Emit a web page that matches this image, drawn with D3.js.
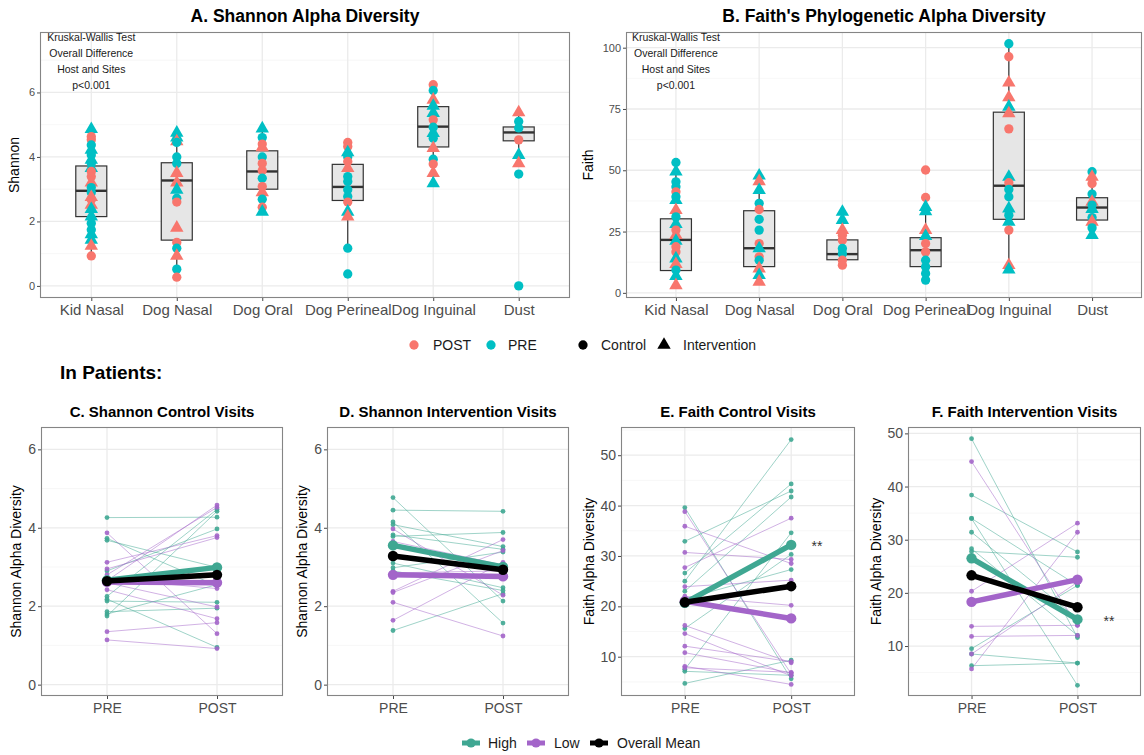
<!DOCTYPE html>
<html>
<head>
<meta charset="utf-8">
<script src="https://cdn.jsdelivr.net/npm/d3@7/dist/d3.min.js"></script>
<style>
  body { margin: 0; background: #ffffff; }
  svg { display: block; font-family: "Liberation Sans", Arial, Helvetica, sans-serif; }
</style>
</head>
<body>
<svg id="chart" width="1144" height="755"></svg>
<script>
// ---------------- data ----------------
const sites = ["Kid Nasal", "Dog Nasal", "Dog Oral", "Dog Perineal", "Dog Inguinal", "Dust"];
const visits = ["PRE", "POST"];
const visitLegend = ["POST", "PRE"];
const armLegend = ["Control", "Intervention"];
const groupLegend = ["High", "Low", "Overall Mean"];

// per-sample alpha diversity: [site index, value, visit, arm]  arm C = Control, I = Intervention
const shannonSamples = [
  [0,4.86,"PRE","I"],[0,4.63,"POST","C"],[0,4.53,"POST","C"],[0,4.37,"PRE","C"],[0,4.22,"PRE","I"],
  [0,4.06,"PRE","C"],[0,3.91,"PRE","I"],[0,3.80,"PRE","C"],[0,3.65,"PRE","I"],[0,3.55,"POST","C"],
  [0,3.39,"POST","C"],[0,3.20,"POST","I"],[0,3.05,"PRE","C"],[0,2.90,"PRE","C"],[0,2.75,"POST","I"],
  [0,2.67,"POST","C"],[0,2.51,"POST","I"],[0,2.38,"PRE","I"],[0,2.15,"PRE","I"],[0,1.94,"PRE","C"],
  [0,1.74,"PRE","C"],[0,1.60,"PRE","I"],[0,1.43,"PRE","I"],[0,1.24,"POST","I"],[0,0.93,"POST","C"],
  [1,4.75,"PRE","I"],[1,4.60,"PRE","I"],[1,4.48,"POST","I"],[1,4.45,"PRE","C"],[1,4.00,"PRE","C"],
  [1,3.80,"PRE","C"],[1,3.50,"POST","I"],[1,3.20,"POST","I"],[1,2.98,"PRE","I"],[1,2.72,"PRE","C"],
  [1,2.60,"POST","C"],[1,1.80,"POST","I"],[1,1.35,"POST","C"],[1,1.17,"PRE","C"],[1,0.93,"POST","I"],
  [1,0.52,"PRE","C"],[1,0.27,"POST","C"],
  [2,4.88,"PRE","I"],[2,4.60,"PRE","C"],[2,4.40,"POST","C"],[2,4.30,"POST","I"],[2,4.00,"PRE","C"],
  [2,3.80,"POST","C"],[2,3.58,"POST","C"],[2,3.34,"PRE","C"],[2,3.08,"POST","C"],[2,2.90,"POST","I"],
  [2,2.69,"PRE","C"],[2,2.44,"POST","C"],[2,2.30,"PRE","I"],
  [3,4.45,"POST","C"],[3,4.32,"POST","C"],[3,4.14,"PRE","I"],[3,4.00,"PRE","C"],[3,3.86,"POST","C"],
  [3,3.65,"POST","I"],[3,3.39,"PRE","C"],[3,3.24,"PRE","C"],[3,2.98,"PRE","C"],[3,2.77,"PRE","C"],
  [3,2.60,"POST","C"],[3,2.30,"PRE","I"],[3,2.15,"POST","I"],[3,1.17,"PRE","C"],[3,0.37,"PRE","C"],
  [4,6.24,"POST","C"],[4,6.06,"PRE","C"],[4,5.77,"POST","I"],[4,5.58,"PRE","I"],[4,5.36,"PRE","I"],
  [4,5.15,"POST","C"],[4,4.92,"PRE","C"],[4,4.74,"PRE","I"],[4,4.58,"PRE","C"],[4,4.27,"POST","I"],
  [4,3.93,"PRE","C"],[4,3.78,"POST","C"],[4,3.50,"POST","I"],[4,3.18,"PRE","I"],
  [5,5.38,"POST","I"],[5,5.10,"PRE","C"],[5,4.90,"PRE","C"],[5,4.53,"POST","C"],[5,4.06,"PRE","I"],
  [5,3.80,"POST","I"],[5,3.47,"PRE","C"],[5,0.00,"PRE","C"]
];
// box summaries per site: [lower whisker, Q1, median, Q3, upper whisker]
const shannonBoxStats = [
  [0.93,2.15,2.95,3.72,4.86],[0.27,1.42,3.27,3.82,4.75],[2.30,3.00,3.55,4.19,4.88],
  [1.17,2.65,3.07,3.77,4.45],[3.18,4.31,4.94,5.56,6.24],[4.06,4.50,4.76,4.93,5.38]
];
const faithSamples = [
  [0,53.2,"PRE","C"],[0,49.4,"PRE","I"],[0,45.3,"PRE","C"],[0,43.3,"PRE","C"],[0,41.2,"POST","C"],
  [0,39.2,"PRE","C"],[0,37.8,"PRE","I"],[0,33.7,"POST","I"],[0,31.0,"PRE","C"],[0,28.0,"PRE","I"],
  [0,25.6,"POST","C"],[0,23.5,"POST","I"],[0,21.2,"PRE","I"],[0,18.8,"POST","C"],[0,16.7,"POST","C"],
  [0,14.0,"PRE","I"],[0,11.7,"POST","I"],[0,9.3,"PRE","C"],[0,6.8,"PRE","I"],[0,3.1,"POST","I"],
  [1,47.8,"PRE","I"],[1,45.5,"POST","I"],[1,41.9,"PRE","I"],[1,36.5,"PRE","C"],[1,34.0,"POST","C"],
  [1,30.0,"PRE","C"],[1,25.6,"PRE","C"],[1,20.1,"POST","C"],[1,18.1,"PRE","I"],[1,14.7,"POST","C"],
  [1,13.3,"PRE","C"],[1,9.9,"POST","I"],[1,7.2,"PRE","I"],[1,4.5,"POST","I"],
  [2,33.0,"PRE","I"],[2,29.7,"PRE","I"],[2,25.6,"POST","I"],[2,23.5,"POST","C"],[2,21.5,"POST","C"],
  [2,18.1,"PRE","C"],[2,16.0,"PRE","C"],[2,13.3,"POST","C"],[2,11.3,"POST","C"],
  [3,50.1,"POST","C"],[3,38.9,"POST","C"],[3,35.0,"PRE","I"],[3,33.2,"PRE","I"],[3,25.6,"POST","I"],
  [3,23.1,"PRE","I"],[3,20.1,"POST","C"],[3,16.7,"POST","C"],[3,13.3,"PRE","C"],[3,10.6,"PRE","C"],
  [3,7.9,"PRE","C"],[3,5.2,"PRE","C"],
  [4,101.6,"PRE","C"],[4,96.3,"POST","C"],[4,85.7,"POST","I"],[4,79.7,"POST","I"],[4,75.9,"PRE","I"],
  [4,73.2,"POST","I"],[4,66.9,"POST","C"],[4,47.3,"PRE","I"],[4,44.9,"POST","C"],[4,42.2,"PRE","C"],
  [4,39.2,"PRE","C"],[4,34.4,"PRE","I"],[4,31.7,"PRE","C"],[4,29.0,"PRE","I"],[4,25.6,"POST","C"],
  [4,11.3,"POST","I"],[4,9.5,"PRE","I"],
  [5,49.4,"PRE","C"],[5,47.3,"POST","I"],[5,44.6,"POST","C"],[5,40.3,"PRE","C"],[5,37.1,"POST","I"],
  [5,35.8,"PRE","C"],[5,34.2,"PRE","I"],[5,30.7,"PRE","C"],[5,29.0,"POST","I"],[5,26.5,"PRE","C"],
  [5,23.5,"PRE","I"]
];
const faithBoxStats = [
  [3.1,9.1,21.6,30.2,53.2],[4.5,10.7,18.2,33.5,47.8],[11.3,13.5,15.8,21.6,33.0],
  [5.2,10.7,17.4,22.5,38.9],[9.5,30.0,43.7,73.7,101.6],[23.5,29.7,34.8,38.8,49.4]
];
const testNote = ["Kruskal-Wallis Test", "Overall Difference", "Host and Sites", "p<0.001"];

// paired patient values [PRE, POST], split by High / Low group
const shannonControlHigh = [[4.26,4.27],[3.73,2.52],[3.68,2.99],[2.90,3.97],[2.18,0.95],[2.13,2.10],[1.86,1.95],[1.80,2.55],[1.75,4.42],[2.25,4.47]];
const shannonControlLow  = [[3.87,1.30],[3.12,3.80],[2.95,3.75],[2.80,4.52],[2.70,2.45],[2.65,4.58],[2.60,1.98],[2.42,1.68],[1.35,1.58],[1.14,0.92]];
const shannonControlMeans = [[2.66,2.99],[2.62,2.60],[2.64,2.80]]; // High, Low, Overall
const shannonInterventionHigh = [[4.77,2.13],[4.45,4.42],[4.15,1.57],[4.08,3.52],[3.82,3.45],[3.78,3.88],[3.10,2.47],[2.98,3.38],[2.90,2.40],[1.38,2.32]];
const shannonInterventionLow  = [[3.97,2.28],[3.65,3.05],[2.85,2.90],[2.38,3.70],[2.35,3.42],[2.10,1.24],[1.64,3.12]];
const shannonInterventionMeans = [[3.55,3.00],[2.80,2.76],[3.28,2.93]];
const faithControlHigh = [[39.6,5.6],[32.9,42.9],[26.6,44.3],[25.0,53.1],[23.0,41.7],[21.5,27.3],[15.6,30.3],[7.5,34.6],[7.1,6.3],[4.7,9.3]];
const faithControlLow  = [[38.8,6.6],[35.9,28.5],[30.7,29.3],[27.7,37.5],[23.9,25.2],[22.0,20.2],[16.2,8.8],[14.6,6.2],[12.1,9.0],[10.8,6.8],[8.1,4.5],[7.8,6.9]];
const faithControlMeans = [[20.7,32.2],[21.0,17.6],[20.8,24.0]];
const faithInterventionHigh = [[49.0,11.6],[38.4,27.7],[34.0,21.4],[34.0,2.6],[31.4,15.2],[28.3,12.0],[27.8,26.7],[9.5,21.4],[8.5,6.8],[6.3,6.8]];
const faithInterventionLow  = [[44.7,13.9],[20.3,33.1],[13.7,13.9],[11.8,12.0],[8.5,22.0],[5.7,31.4]];
const faithInterventionMeans = [[26.5,15.0],[18.3,22.5],[23.3,17.3]];

// ---------------- styling ----------------
const visitColor = { POST: "#F8766D", PRE: "#00BFC4" };
const groupColor = { "High": "#3FA792", "Low": "#A365C9", "Overall Mean": "#000000" };
const GRID_MAJOR = "#EBEBEB", GRID_MINOR = "#F5F5F5", BORDER = "#858585";
const TICK_TEXT = "#4D4D4D";

const svg = d3.select("#chart");

function drawGrid(g, x, y, x0, x1, y0, y1, major, minor, cats) {
  g.append("rect").attr("x", x0).attr("y", y0).attr("width", x1 - x0).attr("height", y1 - y0).attr("fill", "#fff");
  g.selectAll(null).data(minor).join("line")
    .attr("x1", x0).attr("x2", x1).attr("y1", d => y(d)).attr("y2", d => y(d))
    .attr("stroke", GRID_MINOR).attr("stroke-width", 0.8);
  g.selectAll(null).data(major).join("line")
    .attr("x1", x0).attr("x2", x1).attr("y1", d => y(d)).attr("y2", d => y(d))
    .attr("stroke", GRID_MAJOR).attr("stroke-width", 1.3);
  g.selectAll(null).data(cats).join("line")
    .attr("x1", d => x(d)).attr("x2", d => x(d)).attr("y1", y0).attr("y2", y1)
    .attr("stroke", GRID_MAJOR).attr("stroke-width", 1.3);
}

function drawBorder(g, x0, x1, y0, y1) {
  g.append("rect").attr("x", x0 + 0.5).attr("y", y0 + 0.5).attr("width", x1 - x0 - 1).attr("height", y1 - y0 - 1)
    .attr("fill", "none").attr("stroke", BORDER).attr("stroke-width", 1.1);
}

function styleAxis(ax, size) {
  ax.attr("font-size", null).attr("font-family", null);
  ax.select(".domain").remove();
  ax.selectAll(".tick line").attr("stroke", "#333").attr("stroke-width", 0.9);
  ax.selectAll(".tick text").attr("fill", TICK_TEXT).style("font-size", size + "px");
}

function drawAxes(g, x, y, x0, y1, yTicks, ySize, xSize, xPad) {
  const ay = g.append("g").attr("transform", `translate(${x0},0)`)
    .call(d3.axisLeft(y).tickValues(yTicks).tickSize(3).tickPadding(2).tickFormat(d3.format("d")));
  styleAxis(ay, ySize);
  const ax = g.append("g").attr("transform", `translate(0,${y1})`)
    .call(d3.axisBottom(x).tickSize(3).tickPadding(xPad));
  styleAxis(ax, xSize);
}

function yTitle(g, text, cx, cy, size) {
  g.append("text").attr("transform", `translate(${cx},${cy}) rotate(-90)`)
    .attr("text-anchor", "middle").attr("dy", "0.35em")
    .style("font-size", size + "px").attr("fill", "#000").text(text);
}

function title(g, text, cx, baseline, size) {
  g.append("text").attr("x", cx).attr("y", baseline).attr("text-anchor", "middle")
    .style("font-size", size + "px").style("font-weight", "bold").attr("fill", "#000").text(text);
}

const circleSym = d3.symbol(d3.symbolCircle, 68);
const triSym = d3.symbol(d3.symbolTriangle, 78);

// ---------------- site comparison panels (A, B) ----------------
function sitePanel(cfg) {
  const g = svg.append("g");
  const { x0, x1, y0, y1 } = cfg;
  const x = d3.scalePoint().domain(sites).range([x0, x1]).padding(0.6);
  const y = d3.scaleLinear().domain(cfg.domain).range([y1, y0]);
  drawGrid(g, x, y, x0, x1, y0, y1, cfg.ticks, cfg.minor, sites);

  const bw = 31;
  const boxes = g.append("g");
  cfg.boxes.forEach((b, i) => {
    const cx = x(sites[i]);
    boxes.append("line").attr("x1", cx).attr("x2", cx).attr("y1", y(b[0])).attr("y2", y(b[1]))
      .attr("stroke", "#333").attr("stroke-width", 1.2);
    boxes.append("line").attr("x1", cx).attr("x2", cx).attr("y1", y(b[3])).attr("y2", y(b[4]))
      .attr("stroke", "#333").attr("stroke-width", 1.2);
    boxes.append("rect").attr("x", cx - bw / 2).attr("y", y(b[3])).attr("width", bw)
      .attr("height", y(b[1]) - y(b[3])).attr("fill", "#E6E6E6").attr("stroke", "#333").attr("stroke-width", 1.2);
    boxes.append("line").attr("x1", cx - bw / 2).attr("x2", cx + bw / 2).attr("y1", y(b[2])).attr("y2", y(b[2]))
      .attr("stroke", "#333").attr("stroke-width", 2.4);
  });

  g.append("g").selectAll("path").data(cfg.samples).join("path")
    .attr("transform", d => `translate(${x(sites[d[0]])},${y(d[1])})`)
    .attr("d", d => d[3] === "C" ? circleSym() : triSym())
    .attr("fill", d => visitColor[d[2]]);

  drawBorder(g, x0, x1, y0, y1);
  drawAxes(g, x, y, x0, y1, cfg.ticks, 11, 15, 3);
  // overlapping long labels are kept, as drawn by the axis
  yTitle(g, cfg.yLabel, cfg.yLabelX, (y0 + y1) / 2, 14);
  title(g, cfg.title, (x0 + x1) / 2, 22, 17.5);

  const cx = x(sites[0]);
  g.append("g").selectAll("text").data(testNote).join("text")
    .attr("x", cx).attr("y", (d, i) => 37 + i * 16).attr("dy", "0.35em")
    .attr("text-anchor", "middle").style("font-size", "10.5px").attr("fill", "#1a1a1a").text(d => d);
}

sitePanel({
  x0: 40, x1: 570, y0: 32, y1: 298, domain: [-0.375, 7.875],
  ticks: [0, 2, 4, 6], minor: [1, 3, 5, 7],
  samples: shannonSamples, boxes: shannonBoxStats,
  yLabel: "Shannon", yLabelX: 14, title: "A. Shannon Alpha Diversity"
});
sitePanel({
  x0: 626, x1: 1142, y0: 32, y1: 298, domain: [-2.1, 106.4],
  ticks: [0, 25, 50, 75, 100], minor: [12.5, 37.5, 62.5, 87.5],
  samples: faithSamples, boxes: faithBoxStats,
  yLabel: "Faith", yLabelX: 588, title: "B. Faith's Phylogenetic Alpha Diversity"
});

// ---------------- top legend ----------------
const legTop = svg.append("g").attr("transform", "translate(0,345)");
const visitKeyX = [414, 491], visitTextX = [433, 508];
visitLegend.forEach((v, i) => {
  legTop.append("path").attr("transform", `translate(${visitKeyX[i]},0)`).attr("d", circleSym()).attr("fill", visitColor[v]);
  legTop.append("text").attr("x", visitTextX[i]).attr("dy", "0.35em").style("font-size", "14px").attr("fill", "#1a1a1a").text(v);
});
const armKeyX = [583, 664], armTextX = [601, 683];
armLegend.forEach((a, i) => {
  legTop.append("path").attr("transform", `translate(${armKeyX[i]},0)`).attr("d", i === 0 ? circleSym() : triSym()).attr("fill", "#000");
  legTop.append("text").attr("x", armTextX[i]).attr("dy", "0.35em").style("font-size", "14px").attr("fill", "#1a1a1a").text(a);
});

svg.append("text").attr("x", 60).attr("y", 379).style("font-size", "19px").style("font-weight", "bold").text("In Patients:");

// ---------------- paired patient panels (C-F) ----------------
function pairedPanel(cfg) {
  const g = svg.append("g");
  const { x0, x1 } = cfg, y0 = 427, y1 = 696;
  const x = d3.scalePoint().domain(visits).range([x0, x1]).padding(0.6);
  const y = d3.scaleLinear().domain(cfg.domain).range([y1, y0]);
  drawGrid(g, x, y, x0, x1, y0, y1, cfg.ticks, cfg.minor, visits);

  const groups = [["High", cfg.high], ["Low", cfg.low]];
  groups.forEach(([name, pairs]) => {
    g.append("g").selectAll("line").data(pairs).join("line")
      .attr("x1", x("PRE")).attr("x2", x("POST")).attr("y1", d => y(d[0])).attr("y2", d => y(d[1]))
      .attr("stroke", groupColor[name]).attr("stroke-width", 1).attr("stroke-opacity", 0.5);
  });
  groups.forEach(([name, pairs]) => {
    const pts = pairs.flatMap(d => [["PRE", d[0]], ["POST", d[1]]]);
    g.append("g").selectAll("circle").data(pts).join("circle")
      .attr("cx", d => x(d[0])).attr("cy", d => y(d[1])).attr("r", 2.4)
      .attr("fill", groupColor[name]).attr("fill-opacity", 0.9);
  });

  cfg.means.forEach((m, i) => {
    const col = groupColor[groupLegend[i]];
    g.append("line").attr("x1", x("PRE")).attr("x2", x("POST")).attr("y1", y(m[0])).attr("y2", y(m[1]))
      .attr("stroke", col).attr("stroke-width", 5.5).attr("stroke-linecap", "round");
    g.selectAll(null).data(m).join("circle")
      .attr("cx", (d, j) => x(visits[j])).attr("cy", d => y(d)).attr("r", 5.2).attr("fill", col);
  });

  drawBorder(g, x0, x1, y0, y1);
  drawAxes(g, x, y, x0, y1, cfg.ticks, 14, 14, 4);
  yTitle(g, cfg.yLabel, cfg.yLabelX, (y0 + y1) / 2, 14);
  title(g, cfg.title, (x0 + x1) / 2, 417, 15);
  if (cfg.star) {
    g.append("text").attr("x", cfg.star[0]).attr("y", cfg.star[1]).attr("text-anchor", "middle")
      .style("font-size", "14px").attr("fill", "#333").text("**");
  }
}

pairedPanel({
  x0: 41, x1: 283, domain: [-0.29, 6.57], ticks: [0, 2, 4, 6], minor: [1, 3, 5],
  high: shannonControlHigh, low: shannonControlLow, means: shannonControlMeans,
  yLabel: "Shannon Alpha Diversity", yLabelX: 16, title: "C. Shannon Control Visits"
});
pairedPanel({
  x0: 327, x1: 569, domain: [-0.29, 6.57], ticks: [0, 2, 4, 6], minor: [1, 3, 5],
  high: shannonInterventionHigh, low: shannonInterventionLow, means: shannonInterventionMeans,
  yLabel: "Shannon Alpha Diversity", yLabelX: 302, title: "D. Shannon Intervention Visits"
});
pairedPanel({
  x0: 621, x1: 855, domain: [2.2, 55.6], ticks: [10, 20, 30, 40, 50], minor: [5, 15, 25, 35, 45, 55],
  high: faithControlHigh, low: faithControlLow, means: faithControlMeans,
  yLabel: "Faith Alpha Diversity", yLabelX: 589, title: "E. Faith Control Visits", star: [817, 551]
});
pairedPanel({
  x0: 908, x1: 1141, domain: [0.6, 51.2], ticks: [10, 20, 30, 40, 50], minor: [5, 15, 25, 35, 45],
  high: faithInterventionHigh, low: faithInterventionLow, means: faithInterventionMeans,
  yLabel: "Faith Alpha Diversity", yLabelX: 876, title: "F. Faith Intervention Visits", star: [1109, 626]
});

// ---------------- bottom legend ----------------
const legBot = svg.append("g").attr("transform", "translate(0,743)");
const groupKeyX = [471, 536, 599], groupTextX = [488, 554, 617];
groupLegend.forEach((name, i) => {
  legBot.append("line").attr("x1", groupKeyX[i] - 9).attr("x2", groupKeyX[i] + 9)
    .attr("stroke", groupColor[name]).attr("stroke-width", 5);
  legBot.append("circle").attr("cx", groupKeyX[i]).attr("r", 4.6).attr("fill", groupColor[name]);
  legBot.append("text").attr("x", groupTextX[i]).attr("dy", "0.35em").style("font-size", "14px")
    .attr("fill", "#1a1a1a").text(name);
});
</script>
</body>
</html>
